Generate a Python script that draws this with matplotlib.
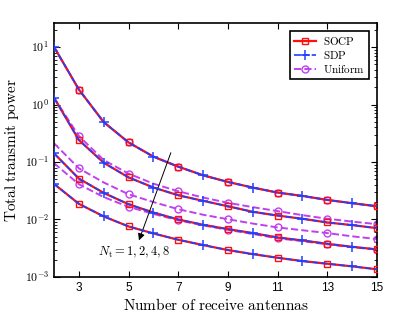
import numpy as np
import matplotlib.pyplot as plt
from matplotlib.ticker import FuncFormatter

plt.rcParams['mathtext.fontset'] = 'cm'
plt.rcParams['font.family'] = ['Liberation Sans', 'DejaVu Sans']

# Number of receive antennas
n_rx = np.arange(2, 16)

# Total transmit power for N_t = 1, 2, 4, 8
socp_nt1 = [10.0, 1.82, 0.494, 0.219, 0.124, 0.083, 0.0587, 0.045, 0.0359, 0.0294, 0.0257, 0.0219, 0.0192, 0.0170]
socp_nt2 = [1.31, 0.241, 0.097, 0.054, 0.036, 0.0264, 0.0211, 0.0170, 0.0136, 0.0117, 0.0103, 0.00888, 0.00798, 0.00708]
socp_nt4 = [0.141, 0.0514, 0.029, 0.0184, 0.0132, 0.0100, 0.0081, 0.0068, 0.0058, 0.00487, 0.00432, 0.00378, 0.00335, 0.00302]
socp_nt8 = [0.0415, 0.0187, 0.0113, 0.00757, 0.00572, 0.00444, 0.00359, 0.00294, 0.0025, 0.00216, 0.00189, 0.0017, 0.00153, 0.00136]

sdp_nt1 = socp_nt1
sdp_nt2 = socp_nt2
sdp_nt4 = socp_nt4
sdp_nt8 = socp_nt8

unif_nt1 = socp_nt1
unif_nt2 = [1.3, 0.283, 0.108, 0.0628, 0.042, 0.031, 0.0241, 0.0195, 0.0164, 0.0140, 0.0119, 0.0103, 0.0092, 0.0083]
unif_nt4 = [0.211, 0.0776, 0.044, 0.0275, 0.0201, 0.0151, 0.0121, 0.0101, 0.0085, 0.00727, 0.0065, 0.0058, 0.0051, 0.00456]
unif_nt8 = [0.095, 0.041, 0.0245, 0.0166, 0.0125, 0.0097, 0.0079, 0.0066, 0.0056, 0.0047, 0.0042, 0.0037, 0.0033, 0.0030]

RED = '#ff1010'
BLUE = '#2040ff'
VIOLET = '#c040f0'

fig = plt.figure(figsize=(4.16, 3.18), dpi=100)
ax = fig.add_axes([0.130, 0.129, 0.776, 0.799])

socp = [socp_nt1, socp_nt2, socp_nt4, socp_nt8]
sdp = [sdp_nt1, sdp_nt2, sdp_nt4, sdp_nt8]
unif = [unif_nt1, unif_nt2, unif_nt4, unif_nt8]

for k in range(4):
    lab = k == 0
    ax.plot(n_rx, unif[k], '--', color=VIOLET, lw=1.4, marker='o', ms=5,
            mfc='none', mew=1.0, markevery=slice(1, None, 2),
            label='Uniform' if lab else None, zorder=2)
    ax.plot(n_rx, socp[k], '-', color=RED, lw=1.6, marker='s', ms=5,
            mfc='none', mew=1.0, markevery=slice(1, None, 2),
            label='SOCP' if lab else None, zorder=3)
    ax.plot(n_rx, sdp[k], '--', color=BLUE, lw=1.2, marker='+', ms=7,
            mew=1.1, markevery=slice(0, None, 2),
            label='SDP' if lab else None, zorder=4)

ax.set_yscale('log')
ax.set_xlim(2, 15)
ax.set_ylim(1e-3, 10**1.42)
ax.set_xticks([3, 5, 7, 9, 11, 13, 15])
ax.yaxis.set_major_formatter(FuncFormatter(
    lambda v, p: r'$\mathsf{10^{%d}}$' % round(np.log10(v))))
ax.tick_params(which='both', direction='in', top=True, right=True, labelsize=8.5)
ax.tick_params(which='major', length=4)
ax.tick_params(which='minor', length=2)
for s in ax.spines.values():
    s.set_linewidth(1.2)

ax.set_xlabel(r'$\mathrm{Number\ of\ receive\ antennas}$', fontsize=11, labelpad=2)
ax.set_ylabel(r'$\mathrm{Total\ transmit\ power}$', fontsize=11, labelpad=3)

ax.annotate('', xy=(5.38, 0.0039), xytext=(6.74, 0.161),
            arrowprops=dict(arrowstyle='-|>', color='k', lw=0.7, mutation_scale=10))
ax.text(5.2, 0.00272, r'$N_{\rm t} = 1, 2, 4, 8$', fontsize=9,
        ha='center', va='center')

handles, labels = ax.get_legend_handles_labels()
order = [labels.index('SOCP'), labels.index('SDP'), labels.index('Uniform')]
names = [r'$\mathrm{SOCP}$', r'$\mathrm{SDP}$', r'$\mathrm{Uniform}$']
leg = ax.legend([handles[i] for i in order], names,
                loc='upper right', bbox_to_anchor=(0.975, 0.969), borderaxespad=0,
                fancybox=False, framealpha=1, edgecolor='k', fontsize=8,
                handlelength=2.0, handletextpad=0.6, borderpad=0.35,
                labelspacing=0.2)
leg.get_frame().set_linewidth(1.2)

fig.savefig('out.png', dpi=100)
